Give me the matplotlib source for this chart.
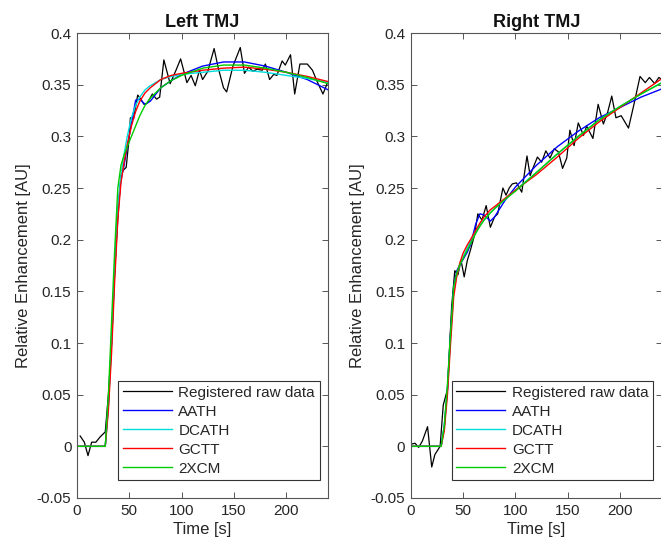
import matplotlib
matplotlib.use("Agg")
import matplotlib.pyplot as plt

plt.rcParams['font.family'] = ['Liberation Sans', 'DejaVu Sans']

# ---------------- Left TMJ ----------------
left_raw_t = [3, 7, 10.5, 14, 18, 22, 27, 30, 33, 36, 39, 42, 44, 47, 50, 51, 54, 58, 61, 64, 67,
              72, 76, 79, 83, 89, 95, 99, 105, 109, 113, 117, 120, 125, 131, 135, 140, 143, 149,
              156, 160, 164, 168, 172, 177, 180, 184, 188, 191, 196, 199, 204, 208, 213, 220,
              225, 229, 235, 239]
left_raw_v = [0.010, 0.004, -0.009, 0.004, 0.004, 0.009, 0.014, 0.050, 0.100, 0.170, 0.220, 0.262,
              0.267, 0.270, 0.300, 0.318, 0.317, 0.340, 0.336, 0.331, 0.332, 0.341, 0.336, 0.338,
              0.374, 0.351, 0.365, 0.375, 0.352, 0.359, 0.349, 0.364, 0.355, 0.363, 0.385, 0.366,
              0.347, 0.343, 0.368, 0.386, 0.361, 0.367, 0.363, 0.365, 0.364, 0.370, 0.355, 0.360,
              0.359, 0.373, 0.369, 0.379, 0.341, 0.370, 0.370, 0.364, 0.354, 0.341, 0.351]

left_fit_t = [0, 27, 30, 33, 36, 39, 42, 45, 48, 52, 56, 60, 65, 70, 80, 90, 100, 120, 140, 160,
              180, 200, 220, 240]
left_aath = [0, 0, 0.04, 0.10, 0.17, 0.23, 0.258, 0.272, 0.290, 0.312, 0.335, 0.336, 0.331, 0.334,
             0.347, 0.354, 0.360, 0.368, 0.372, 0.372, 0.368, 0.362, 0.355, 0.345]
left_dcath = [0, 0, 0.04, 0.10, 0.17, 0.23, 0.262, 0.283, 0.300, 0.318, 0.330, 0.338, 0.345,
              0.349, 0.355, 0.358, 0.360, 0.362, 0.364, 0.364, 0.362, 0.359, 0.356, 0.352]
left_gctt = [0, 0, 0.035, 0.09, 0.16, 0.22, 0.255, 0.275, 0.292, 0.310, 0.324, 0.334, 0.342,
             0.347, 0.355, 0.359, 0.361, 0.364, 0.366, 0.367, 0.365, 0.362, 0.358, 0.353]
left_2xcm = [0, 0, 0.05, 0.12, 0.19, 0.25, 0.272, 0.282, 0.290, 0.300, 0.310, 0.320, 0.330,
             0.337, 0.347, 0.354, 0.359, 0.366, 0.369, 0.369, 0.366, 0.362, 0.357, 0.351]

# ---------------- Right TMJ ----------------
right_raw_t = [0, 4, 7.5, 11, 16, 20, 23, 28, 31, 35, 39, 42, 45, 48, 51, 54, 57, 61, 64, 68, 72,
               76, 80, 83, 88, 91, 94, 97, 101, 106, 111, 114, 117, 121, 125, 129, 133, 137, 141,
               145, 149, 152, 156, 160, 165, 168, 174, 179, 184, 188, 192, 196, 201, 208, 213,
               219, 224, 228, 233, 237, 240]
right_raw_v = [0.002, 0.003, -0.001, 0.005, 0.019, -0.020, -0.008, 0.000, 0.040, 0.055, 0.135,
               0.170, 0.166, 0.180, 0.164, 0.180, 0.190, 0.205, 0.225, 0.219, 0.233, 0.212, 0.222,
               0.225, 0.250, 0.243, 0.250, 0.254, 0.255, 0.246, 0.281, 0.262, 0.270, 0.280, 0.275,
               0.286, 0.279, 0.288, 0.285, 0.269, 0.279, 0.306, 0.291, 0.313, 0.301, 0.310, 0.298,
               0.331, 0.312, 0.323, 0.339, 0.318, 0.320, 0.308, 0.330, 0.358, 0.352, 0.357, 0.351,
               0.357, 0.355]

right_fit_t = [0, 29, 32, 35, 38, 41, 44, 47, 50, 54, 57, 62, 66, 70, 76, 80, 90, 100, 120, 140,
               160, 180, 200, 220, 240]
right_aath = [0, 0, 0.02, 0.055, 0.11, 0.155, 0.170, 0.176, 0.181, 0.188, 0.195, 0.215, 0.225,
              0.224, 0.218, 0.222, 0.238, 0.251, 0.272, 0.290, 0.305, 0.318, 0.328, 0.338, 0.346]
right_dcath = [0, 0, 0.02, 0.055, 0.105, 0.150, 0.166, 0.176, 0.183, 0.192, 0.199, 0.208, 0.214,
               0.219, 0.226, 0.230, 0.239, 0.248, 0.265, 0.283, 0.300, 0.316, 0.329, 0.341, 0.352]
right_gctt = [0, 0, 0.015, 0.05, 0.10, 0.145, 0.165, 0.178, 0.187, 0.195, 0.200, 0.209, 0.216,
              0.222, 0.229, 0.232, 0.240, 0.248, 0.263, 0.280, 0.298, 0.314, 0.328, 0.342, 0.356]
right_2xcm = [0, 0, 0.02, 0.06, 0.11, 0.155, 0.168, 0.176, 0.182, 0.190, 0.196, 0.206, 0.213,
              0.219, 0.226, 0.230, 0.239, 0.247, 0.265, 0.283, 0.300, 0.316, 0.329, 0.341, 0.352]

labels = ['Registered raw data', 'AATH', 'DCATH', 'GCTT', '2XCM']
colors = ['black', '#0000ff', '#00dddd', '#ff0000', '#00cc00']
titles = ['Left TMJ', 'Right TMJ']
xticks = [0, 50, 100, 150, 200]
yticks = [-0.05, 0, 0.05, 0.1, 0.15, 0.2, 0.25, 0.3, 0.35, 0.4]
yticklabels = ['-0.05', '0', '0.05', '0.1', '0.15', '0.2', '0.25', '0.3', '0.35', '0.4']

panels = [
    (left_raw_t, left_raw_v, left_fit_t, [left_aath, left_dcath, left_gctt, left_2xcm]),
    (right_raw_t, right_raw_v, right_fit_t, [right_aath, right_dcath, right_gctt, right_2xcm]),
]

fig = plt.figure(figsize=(6.61, 5.47), dpi=100)
txt = '#262626'
edge = '#555555'
positions = [[0.1165, 0.0896, 0.380, 0.850], [0.6215, 0.0896, 0.380, 0.850]]

for i, (rt, rv, ft, fits) in enumerate(panels):
    ax = fig.add_axes(positions[i])
    ax.plot(rt, rv, color=colors[0], lw=0.9, label=labels[0])
    for k, fv in enumerate(fits):
        ax.plot(ft, fv, color=colors[k + 1], lw=1.0, label=labels[k + 1])
    ax.set_xlim(0, 240)
    ax.set_ylim(-0.05, 0.4)
    ax.set_xticks(xticks)
    ax.set_xticklabels([str(x) for x in xticks])
    ax.set_yticks(yticks)
    ax.set_yticklabels(yticklabels)
    ax.tick_params(direction='in', top=True, right=True, length=4, width=0.7,
                   labelsize=11, colors=edge, labelcolor=txt, pad=4)
    for s in ax.spines.values():
        s.set_color(edge)
        s.set_linewidth(0.8)
    ax.set_title(titles[i], fontsize=13, fontweight='bold', color='#111111', pad=4)
    ax.set_xlabel('Time [s]', fontsize=12, color=txt, labelpad=3)
    ax.set_ylabel('Relative Enhancement [AU]', fontsize=12, color=txt, labelpad=4)
    leg = ax.legend(loc='lower right', bbox_to_anchor=(0.966, 0.038), fontsize=11,
                    handlelength=3.2, handletextpad=0.45, labelspacing=0.33,
                    borderpad=0.3, borderaxespad=0.0, fancybox=False, framealpha=1)
    leg.get_frame().set_edgecolor('#333333')
    leg.get_frame().set_linewidth(0.8)
    for t in leg.get_texts():
        t.set_color(txt)

fig.savefig('out.png', dpi=100)
